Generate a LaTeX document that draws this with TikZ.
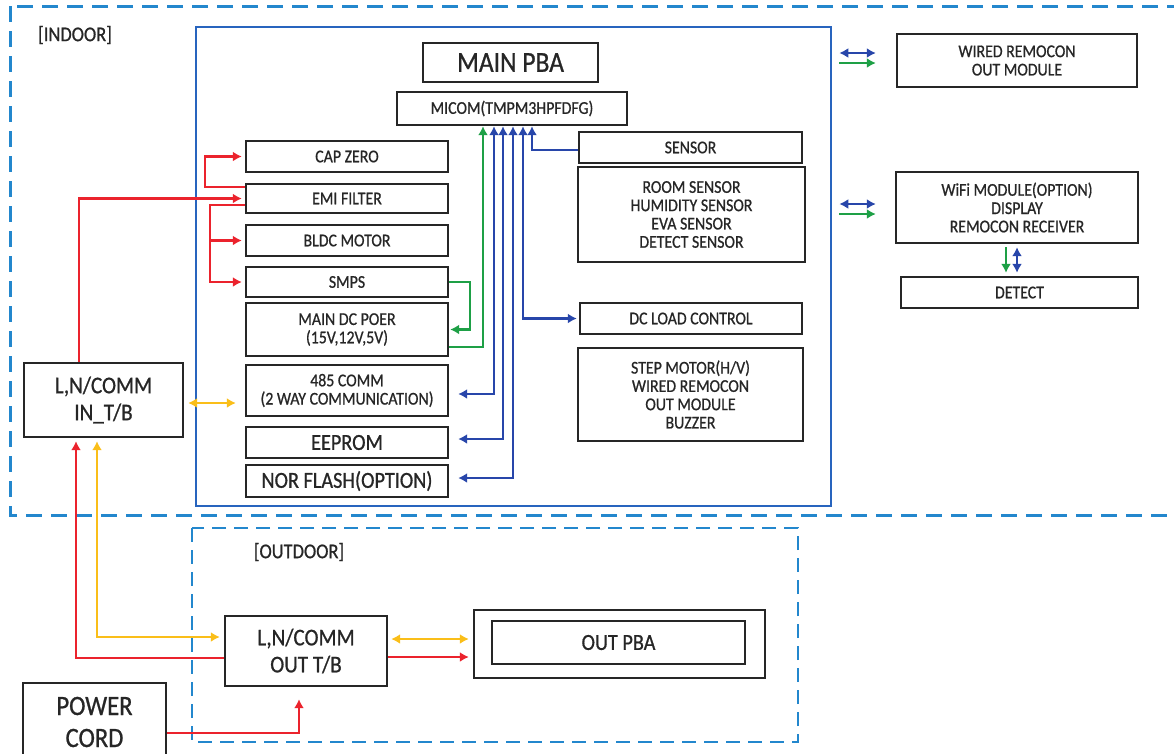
\documentclass[tikz,border=0pt]{standalone}
\usepackage{fontspec}
\setmainfont{Carlito}[FakeStretch=0.88,FakeBold=0.8]
\usetikzlibrary{positioning,arrows.meta}
\definecolor{pbablue}{RGB}{40,100,190}
\definecolor{dashblue}{RGB}{35,135,205}
\definecolor{arrblue}{RGB}{40,70,170}
\definecolor{arrred}{RGB}{235,35,45}
\definecolor{arrgreen}{RGB}{30,160,70}
\definecolor{arryellow}{RGB}{250,190,25}
\tikzset{>={Latex[length=9pt,width=10pt]},
  sz/.style 2 args={minimum width=#1pt,minimum height=#2pt},
  blk/.style={draw=black!85,line width=2.4pt,align=center,inner sep=0pt,text=black!85,
    font=\fontsize{18}{18.3}\selectfont},
  big/.style={font=\fontsize{24}{27}\selectfont},
  lbl/.style={text=black!85,font=\fontsize{21}{22}\selectfont},
  redln/.style={arrred,line width=2.2pt},
  grnln/.style={arrgreen,line width=2.2pt},
  bluln/.style={arrblue,line width=2.2pt},
  yelln/.style={arryellow,line width=2.2pt}}

\begin{document}
\begin{tikzpicture}[x=1pt,y=-1pt]
\useasboundingbox (0,0) rectangle (1174,753);
\draw[dashblue,line width=3pt,dash pattern=on 16pt off 9pt] (10,6) rectangle (1200,515);
\draw[dashblue,line width=2.6pt,dash pattern=on 14pt off 8pt] (192,528) rectangle (798,742);
\node[lbl] (indoor) at (75,35) {[INDOOR]};
\node[lbl] (outdoor) at (299,552) {[OUTDOOR]};
\node[draw=pbablue,line width=2.6pt,sz={635}{479}] (pba) at (513.5,266.5) {};

\node[blk,sz={175}{39},font=\fontsize{29}{30}\selectfont] (mainpba) at (510.5,62.5) {MAIN PBA};
\node[blk,sz={230}{33}] (micom) at (512,108.5) {MICOM(TMPM3HPFDFG)};
\node[blk,sz={202}{31}] (capzero) at (347,156.5) {CAP ZERO};
\node[blk,sz={202}{29}] (emi) at (347,198.5) {EMI FILTER};
\node[blk,sz={202}{31}] (bldc) at (347,240.5) {BLDC MOTOR};
\node[blk,sz={202}{30}] (smps) at (347,282) {SMPS};
\node[blk,sz={202}{53}] (maindc) at (347,329.5) {MAIN DC POER\\(15V,12V,5V)};
\node[blk,sz={202}{51}] (comm485) at (347,390.5) {485 COMM\\(2 WAY COMMUNICATION)};
\node[blk,sz={202}{31},font=\fontsize{23}{24}\selectfont] (eeprom) at (347,442.5) {EEPROM};
\node[blk,sz={202}{32},font=\fontsize{23}{24}\selectfont] (norflash) at (347,481) {NOR FLASH(OPTION)};
\node[blk,sz={223}{31}] (sensor) at (690.5,147.5) {SENSOR};
\node[blk,sz={227}{95}] (sensors) at (691.5,214.5) {ROOM SENSOR\\HUMIDITY SENSOR\\EVA SENSOR\\DETECT SENSOR};
\node[blk,sz={222}{31}] (dcload) at (691,318.5) {DC LOAD CONTROL};
\node[blk,sz={225}{93}] (stepmotor) at (690.5,394.5) {STEP MOTOR(H/V)\\WIRED REMOCON\\OUT MODULE\\BUZZER};
\node[blk,sz={240}{53}] (wired) at (1017,60.5) {WIRED REMOCON\\OUT MODULE};
\node[blk,sz={242}{71}] (wifi) at (1017,207.5) {WiFi MODULE(OPTION)\\DISPLAY\\REMOCON RECEIVER};
\node[blk,sz={237}{31}] (detect) at (1019.5,292.5) {DETECT};
\node[blk,big,sz={159}{74}] (intb) at (103.5,400) {L,N/COMM\\IN\_T/B};
\node[blk,big,sz={162}{70}] (outtb) at (306,651) {L,N/COMM\\OUT T/B};
\node[blk,sz={291}{68}] (outpba) at (619.5,644) {};
\node[blk,sz={253}{43},font=\fontsize{23}{24}\selectfont] (outpbain) at (618.5,642.5) {OUT PBA};
\node[blk,sz={143}{78},font=\fontsize{28}{32}\selectfont] (power) at (94.5,722) {POWER\\CORD};

\draw[redln,->,shorten >=3pt] ([xshift=-24.5pt]intb.north) |- (emi.west);
\draw[redln,->,shorten >=3pt] ([yshift=11.5pt]emi.west) -- ++(-40,0) |- (capzero.west);
\draw[redln,->,shorten >=3pt] ([yshift=-6.5pt]emi.west) -- ++(-35,0) coordinate (split) |- (smps.west);
\draw[redln,->,shorten >=3pt] (split |- bldc.west) -- (bldc.west);
\draw[redln,->,shorten >=3pt] ([yshift=-7pt]outtb.west) -| ([xshift=-27.5pt]intb.south);
\draw[yelln,<->,shorten <=3pt,shorten >=4pt] ([xshift=-6.5pt]intb.south) |- ([yshift=14pt]outtb.west);
\draw[yelln,<->,shorten <=4pt,shorten >=9pt] ([yshift=-3pt]intb.east) -- ([yshift=-3pt]intb.east -| comm485.west);
\draw[yelln,<->,shorten <=3pt,shorten >=4pt] ([yshift=12pt]outtb.east) -- ([yshift=12pt]outtb.east -| outpba.west);
\draw[redln,->,shorten >=4pt] ([yshift=-6pt]outtb.east) -- ([yshift=-6pt]outtb.east -| outpba.west);
\draw[redln,->,shorten >=12pt] ([yshift=-11pt]power.east) -| ([xshift=-7pt]outtb.south);

\draw[grnln,->,shorten >=1pt] (smps.east) -- ++(21,0) |- (maindc.east);
\draw[grnln,->] ([yshift=-17.5pt]maindc.east) -| ([xshift=-29pt]micom.south);
\draw[bluln,<->,shorten >=9pt] ([xshift=-18pt]micom.south) |- ([yshift=-3.5pt]comm485.east);
\draw[bluln,<->,shorten >=9pt] ([xshift=-9pt]micom.south) |- ([yshift=3.5pt]eeprom.east);
\draw[bluln,<->,shorten >=9pt] ([xshift=1pt]micom.south) |- ([yshift=3pt]norflash.east);
\draw[bluln,<->,shorten >=2pt] ([xshift=11pt]micom.south) |- (dcload.west);
\draw[bluln,->] ([yshift=-2.5pt]sensor.west) -| ([xshift=20pt]micom.south);

\coordinate (rw) at (pba.east |- wired.west);
\coordinate (rf) at (pba.east |- wifi.west);
\draw[bluln,<->,shorten <=7pt,shorten >=20pt] ([yshift=7.5pt]rw) -- ([yshift=7.5pt]wired.west);
\draw[grnln,->,shorten <=7pt,shorten >=20pt] ([yshift=-2.5pt]rw) -- ([yshift=-2.5pt]wired.west);
\draw[bluln,<->,shorten <=7pt,shorten >=19pt] ([yshift=3.5pt]rf) -- ([yshift=3.5pt]wifi.west);
\draw[grnln,->,shorten <=7pt,shorten >=19pt] ([yshift=-6.5pt]rf) -- ([yshift=-6.5pt]wifi.west);
\coordinate (wd) at (wifi.south |- detect.north);
\draw[grnln,->,shorten <=3pt,shorten >=3pt] ([xshift=-11pt]wifi.south) -- ([xshift=-11pt]wd);
\draw[bluln,<->,shorten <=3pt,shorten >=3pt] (wifi.south) -- (wd);
\end{tikzpicture}
\end{document}
